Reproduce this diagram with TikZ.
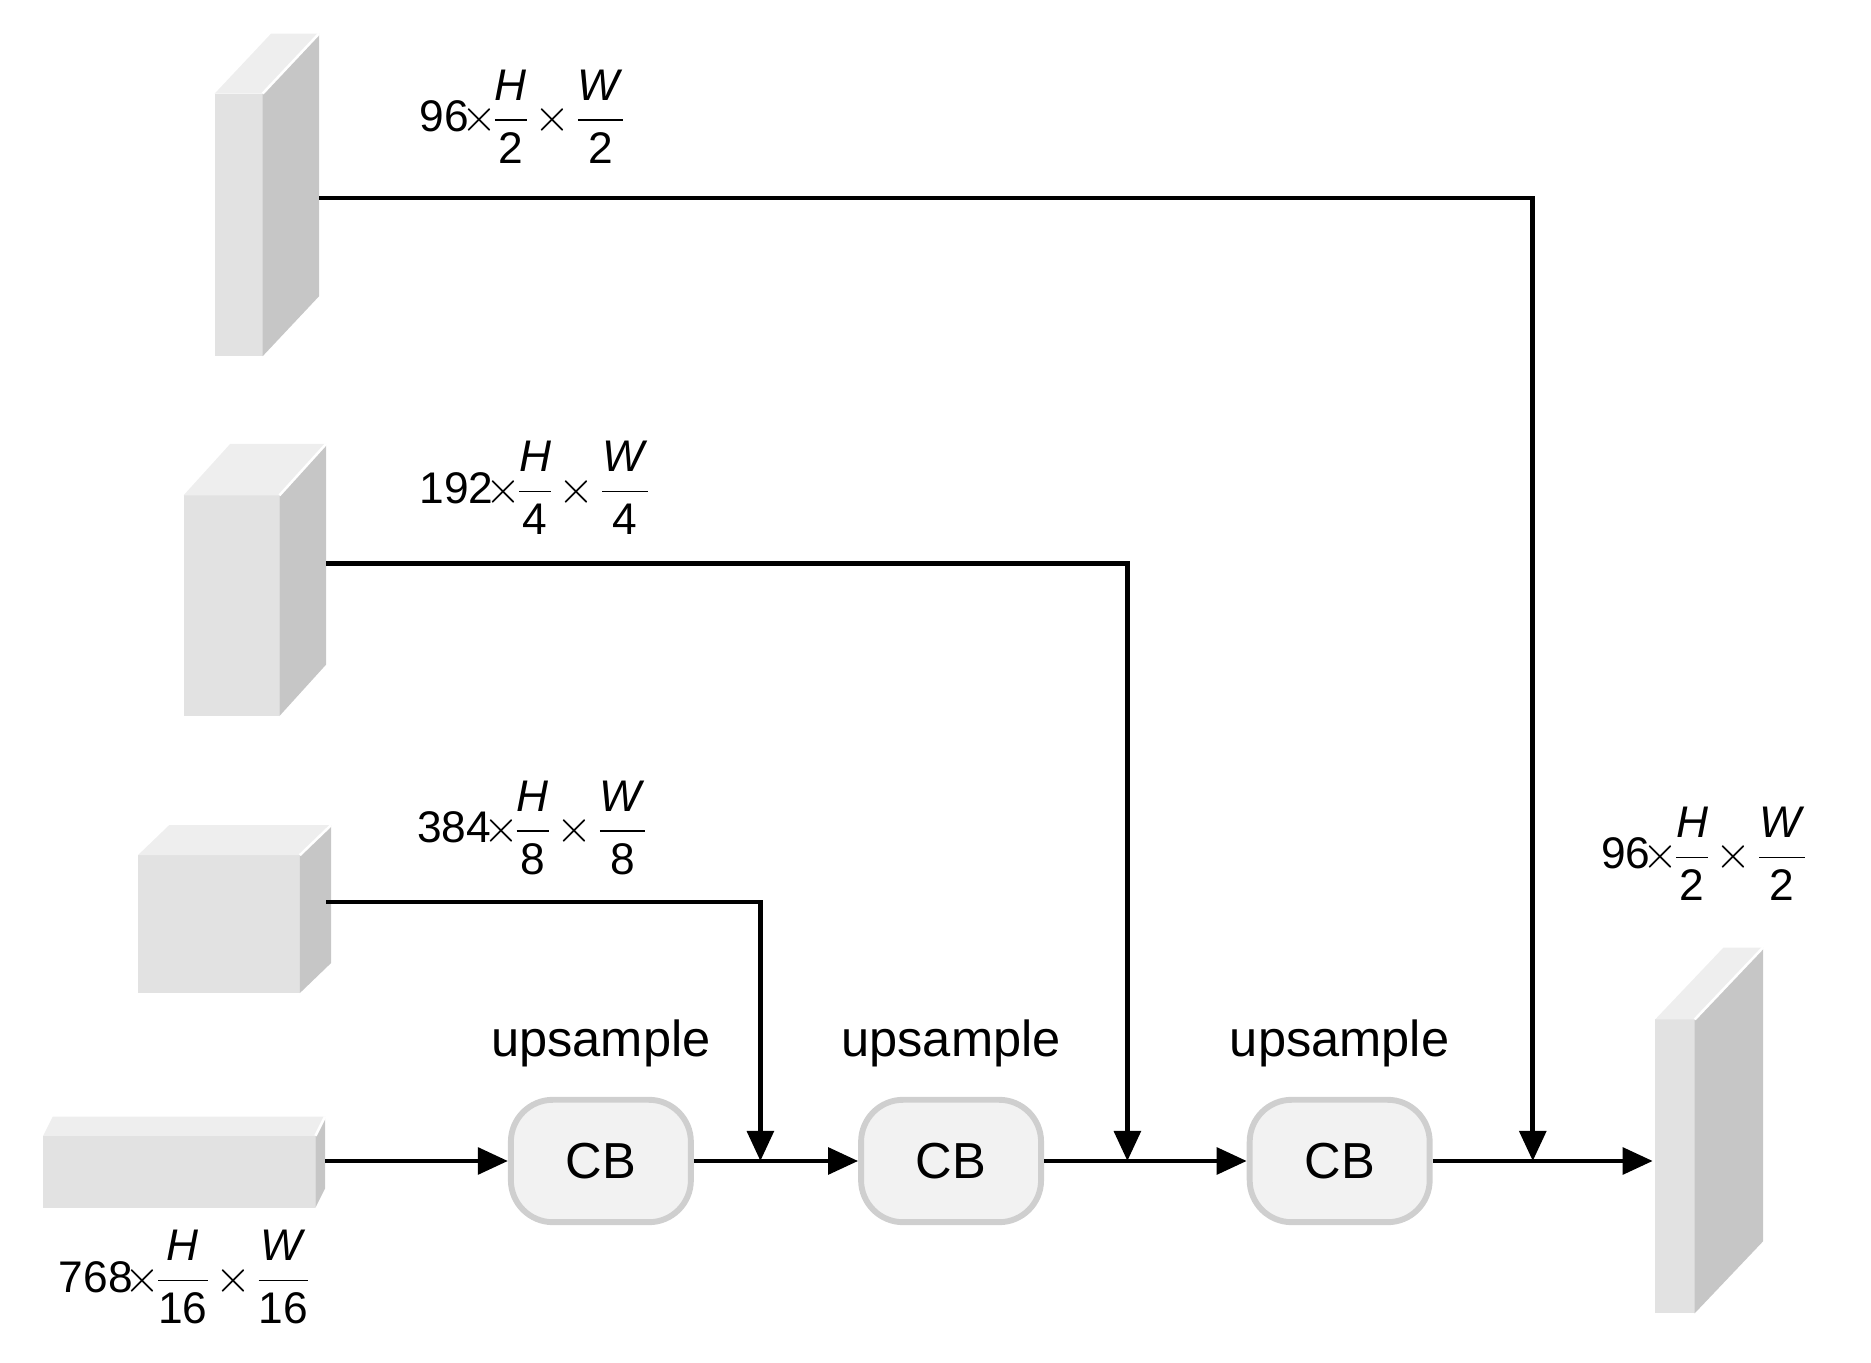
\documentclass[tikz,border=0pt]{standalone}
\usepackage{fontspec}
\setmainfont{Liberation Sans}
\usetikzlibrary{arrows.meta,calc}
\definecolor{fr}{HTML}{E2E2E2}
\definecolor{sd}{HTML}{C6C6C6}
\definecolor{tp}{HTML}{EEEEEE}
\definecolor{cbf}{HTML}{F2F2F2}
\definecolor{cbd}{HTML}{CFCFCF}
\newcommand{\cub}[6]{%
 \fill[fr] (#1,#2) rectangle (#3,#4);
 \fill[sd] (#3,#2) -- ++(#5,-#6) -- ($(#3,#4)+(#5,-#6)$) -- (#3,#4) -- cycle;
 \fill[tp] (#1,#2) -- ++(#5,-#6) -- ($(#3,#2)+(#5,-#6)$) -- (#3,#2) -- cycle;
 \draw[white,line width=0.6pt] (#3,#2) -- ++(#5,-#6);}
\newcommand{\dm}[3]{#1$\displaystyle\!\times\!\frac{\mbox{\textit{H}}}{\mbox{#2}}\!\times\!\frac{\mbox{\textit{W}}}{\mbox{#3}}$}
\begin{document}
\begin{tikzpicture}[x=0.01cm,y=-0.01cm,
 lbl/.style={font=\fontsize{10.5}{12}\selectfont,inner sep=0pt},
 cb/.style={draw=cbd,fill=cbf,line width=1.4pt,rounded corners=0.35cm,minimum width=1.5cm,minimum height=1.02cm,font=\fontsize{12}{14}\selectfont},
 up/.style={font=\fontsize{12}{14}\selectfont},
 ln/.style={line width=1.1pt},
 ar/.style={ln,-{Triangle[length=0.25cm,width=0.22cm]}}]
\useasboundingbox (0,0) rectangle (1560,1136);
\cub{179}{78}{219}{297}{47}{50}
\cub{153}{413}{233}{597}{39}{43}
\cub{115}{713}{250}{828}{26}{25}
\cub{36}{947}{263}{1007}{8}{16}
\cub{1380}{850}{1413}{1095}{57}{60}
\coordinate (s1) at (266,165);
\coordinate (s2) at (272,470);
\coordinate (s3) at (272,752);
\coordinate (s4) at (271,968);
\coordinate (out) at (1378,968);
\node[cb] (c1) at (501,968) {CB};
\node[cb] (c2) at (793,968) {CB};
\node[cb] (c3) at (1117,968) {CB};
\node[up] at (501,870) {upsample};
\node[up] at (793,870) {upsample};
\node[up] at (1117,870) {upsample};
\coordinate (j1) at (634,968);
\coordinate (j2) at (940,968);
\coordinate (j3) at (1278,968);
\draw[ar] (s4) -- (c1);
\draw[ar] (c1) -- (c2);
\draw[ar] (c2) -- (c3);
\draw[ar] (c3) -- (out);
\draw[ar] (s3) -| (j1);
\draw[ar] (s2) -| (j2);
\draw[ar] (s1) -| (j3);
\node[lbl] at (437,97) {\dm{96}{2}{2}};
\node[lbl] at (447,407) {\dm{192}{4}{4}};
\node[lbl] at (445,690) {\dm{384}{8}{8}};
\node[lbl] at (155,1065) {\dm{768}{16}{16}};
\node[lbl] at (1422,712) {\dm{96}{2}{2}};
\end{tikzpicture}
\end{document}
